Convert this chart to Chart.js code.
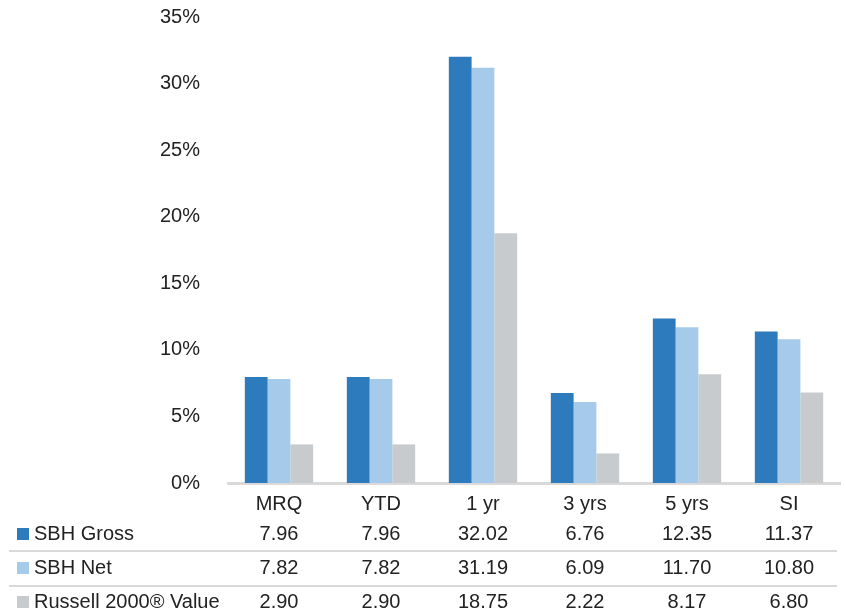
<!DOCTYPE html>
<html>
<head>
<meta charset="utf-8">
<script src="https://cdn.jsdelivr.net/npm/chart.js@4/dist/chart.umd.min.js"></script>
<style>
  body { margin: 0; background: #fff; }
  #wrap { width: 846px; height: 615px; position: relative; }
</style>
</head>
<body>
<div id="wrap"><canvas id="myChart"></canvas></div>
<script>
// 데이터
var categories = ["MRQ", "YTD", "1 yr", "3 yrs", "5 yrs", "SI"];
var sbhGross = [7.96, 7.96, 32.02, 6.76, 12.35, 11.37];
var sbhNet = [7.82, 7.82, 31.19, 6.09, 11.70, 10.80];
var russellValue = [2.90, 2.90, 18.75, 2.22, 8.17, 6.80];
var seriesNames = ["SBH Gross", "SBH Net", "Russell 2000® Value"];
var seriesColors = ["#2d7bbd", "#a6cbea", "#c8cbce"];
var yMax = 35;
var yStep = 5;

var fontFam = "'Liberation Sans', Arial, sans-serif";

// 표 그리기 플러그인
var tablePlugin = {
  id: "dataTable",
  afterDraw: function (chart) {
    var ctx = chart.ctx;
    var x = chart.scales.x;
    var rowsY = [534, 568, 602];
    ctx.save();
    // separator lines
    ctx.strokeStyle = "#d9d9d9";
    ctx.lineWidth = 2;
    [551, 586].forEach(function (y) {
      ctx.beginPath();
      ctx.moveTo(9, y);
      ctx.lineTo(837, y);
      ctx.stroke();
    });
    ctx.font = "20px " + fontFam;
    ctx.textBaseline = "middle";
    chart.data.datasets.forEach(function (ds, r) {
      var y = rowsY[r];
      ctx.fillStyle = ds.backgroundColor;
      ctx.fillRect(17, y - 6, 12, 12);
      ctx.fillStyle = "#222";
      ctx.textAlign = "left";
      ctx.fillText(ds.label, 34, y);
      ctx.textAlign = "center";
      ds.data.forEach(function (v, i) {
        ctx.fillText(v.toFixed(2), x.getPixelForValue(i), y);
      });
    });
    ctx.restore();
  },
};

var ctx = document.getElementById("myChart").getContext("2d");
var chart = new Chart(ctx, {
  type: "bar",
  data: {
    labels: categories,
    datasets: [
      { label: seriesNames[0], data: sbhGross, backgroundColor: seriesColors[0] },
      { label: seriesNames[1], data: sbhNet, backgroundColor: seriesColors[1] },
      { label: seriesNames[2], data: russellValue, backgroundColor: seriesColors[2] },
    ],
  },
  options: {
    responsive: true,
    maintainAspectRatio: false,
    animation: false,
    layout: { padding: { left: 0, right: 6, top: 17, bottom: 0 } },
    datasets: {
      bar: { categoryPercentage: 0.67, barPercentage: 1.0 },
    },
    plugins: {
      legend: { display: false },
      tooltip: { enabled: false },
    },
    scales: {
      x: {
        grid: { display: false },
        border: { display: true, color: "#d9d9d9", width: 3 },
        ticks: {
          color: "#222",
          font: { family: fontFam, size: 20 },
          padding: 1,
        },
        afterFit: function (scale) {
          scale.height = 132;
        },
      },
      y: {
        min: 0,
        max: yMax,
        grid: { display: false },
        border: { display: false },
        ticks: {
          stepSize: yStep,
          color: "#222",
          padding: 20,
          font: { family: fontFam, size: 20 },
          callback: function (v) {
            return v + "%";
          },
        },
        afterFit: function (scale) {
          scale.width = 228;
          scale.paddingTop = 0;
          scale.paddingBottom = 0;
        },
      },
    },
  },
  plugins: [tablePlugin],
});
</script>
</body>
</html>
